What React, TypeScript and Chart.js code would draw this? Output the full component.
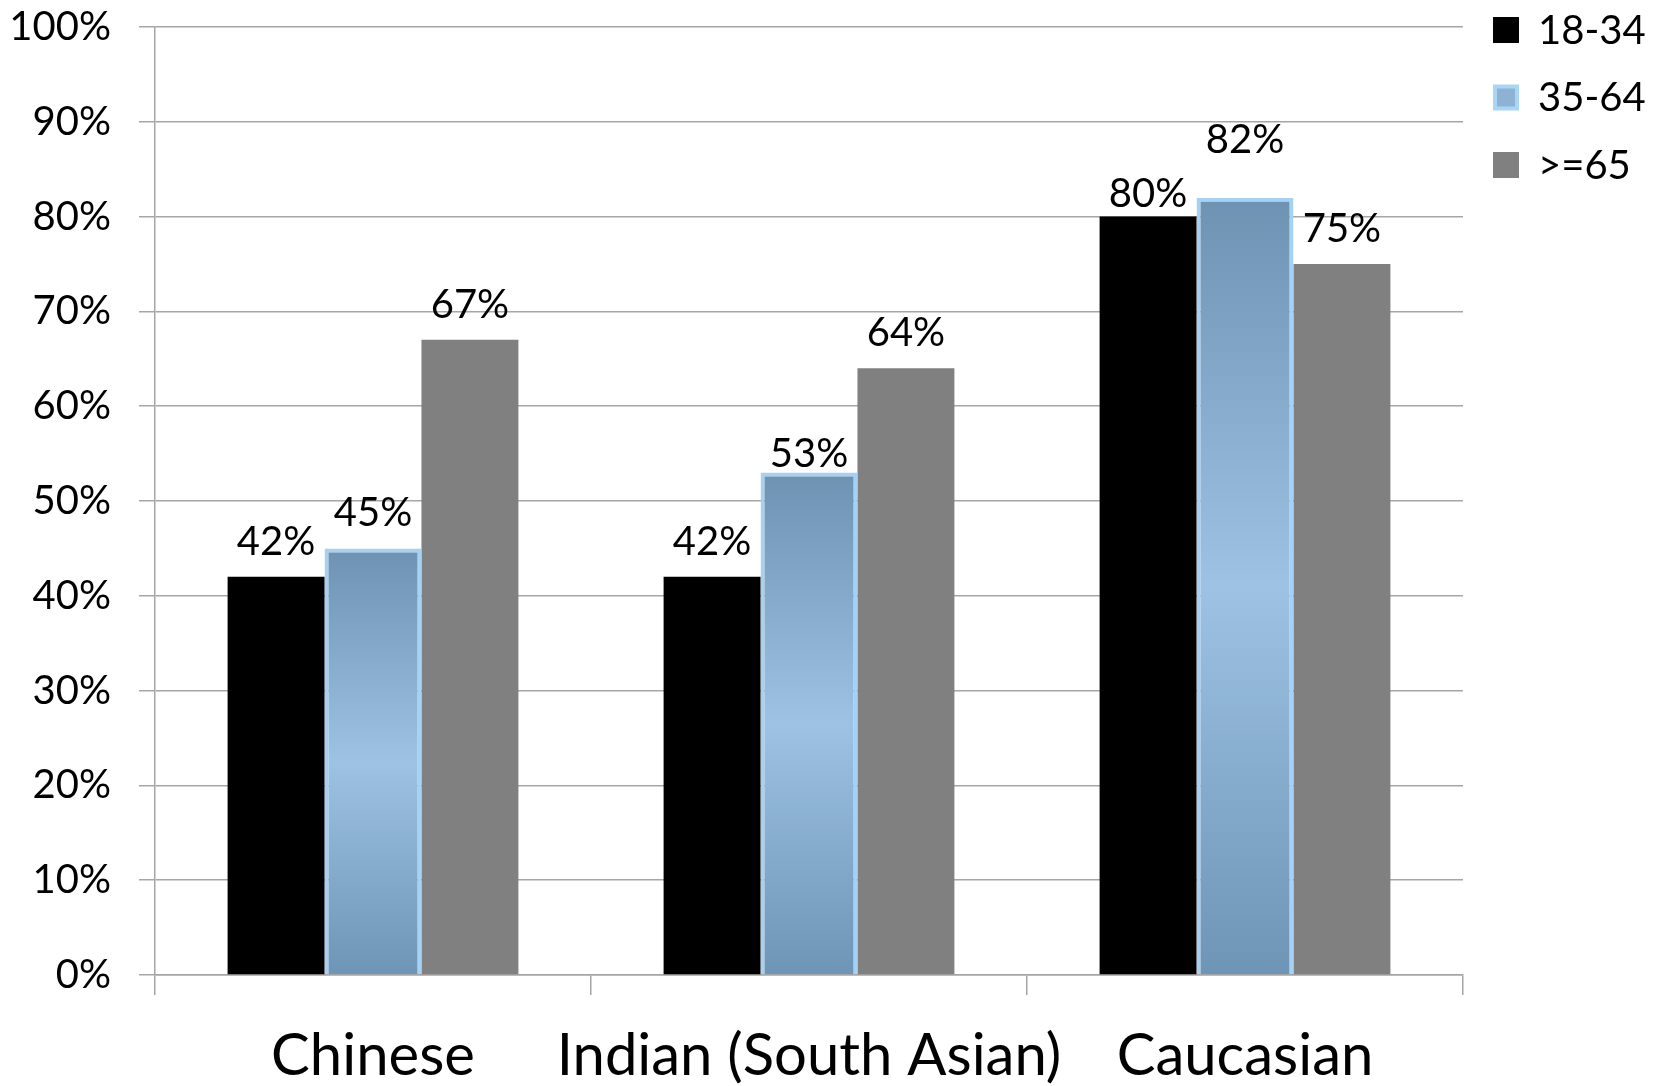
import React, { useEffect, useRef } from "react";
import { Chart, registerables } from "chart.js";

Chart.register(...registerables);

// Groups along the x axis
const categories = ["Chinese", "Indian (South Asian)", "Caucasian"];

// Share per age band, in percent
const age18to34 = [42, 42, 80];
const age35to64 = [45, 53, 82];
const age65plus = [67, 64, 75];

const seriesNames = ["18-34", "35-64", ">=65"];

// Value axis
const yTicks = [0, 10, 20, 30, 40, 50, 60, 70, 80, 90, 100];

const FONT = "Lato, 'Open Sans', sans-serif";
const GRID = "#a6a6a6";

// Vertical gradient for the 35-64 bars, dark at both ends and light in the middle
function blueFill(ctx: any) {
  const chart = ctx.chart;
  if (!chart.chartArea || ctx.raw == null) return "#88acd0";
  const y = chart.scales.y;
  const top = y.getPixelForValue(ctx.raw);
  const bottom = y.getPixelForValue(0);
  const g = chart.ctx.createLinearGradient(0, top, 0, bottom);
  g.addColorStop(0, "#6e92b2");
  g.addColorStop(0.5, "#9dc2e4");
  g.addColorStop(1, "#6f95b6");
  return g;
}

// Value labels above each bar, with a few hand nudges for readability
const valueLabels = {
  id: "valueLabels",
  afterDatasetsDraw(chart: any, _args: any, opts: any) {
    const ctx = chart.ctx;
    ctx.save();
    ctx.font = `40px ${FONT}`;
    ctx.fillStyle = "#000";
    ctx.textAlign = "center";
    ctx.textBaseline = "alphabetic";
    const nudges = opts.nudges || {};
    chart.data.datasets.forEach((ds: any, di: number) => {
      const meta = chart.getDatasetMeta(di);
      meta.data.forEach((bar: any, i: number) => {
        const v = ds.data[i];
        const dy = nudges[`${di}-${i}`] || 0;
        ctx.fillText(`${v}%`, bar.x, bar.y - 22 + dy);
      });
    });
    ctx.restore();
  },
};

// Legend drawn in the right margin, top-aligned
const sideLegend = {
  id: "sideLegend",
  afterDraw(chart: any) {
    const ctx = chart.ctx;
    const x0 = chart.chartArea.right + 30;
    const box = 26;
    const step = 67.5;
    ctx.save();
    ctx.font = `40px ${FONT}`;
    ctx.textAlign = "left";
    ctx.textBaseline = "middle";
    chart.data.datasets.forEach((ds: any, di: number) => {
      const cy = 30 + di * step;
      if (di === 1) {
        ctx.fillStyle = "#aad6f5";
        ctx.fillRect(x0, cy - box / 2, box, box);
        ctx.fillStyle = "#8db2d4";
        ctx.fillRect(x0 + 4, cy - box / 2 + 4, box - 8, box - 8);
      } else {
        ctx.fillStyle = ds.backgroundColor;
        ctx.fillRect(x0, cy - box / 2, box, box);
      }
      ctx.fillStyle = "#000";
      ctx.fillText(ds.label, x0 + box + 19, cy + 1);
    });
    ctx.restore();
  },
};

export default function App() {
  const ref = useRef<HTMLCanvasElement | null>(null);

  useEffect(() => {
    document.body.style.margin = "0";
    const canvas = ref.current;
    if (!canvas) return;
    const chart = new Chart(canvas, {
      type: "bar",
      data: {
        labels: categories,
        datasets: [
          {
            label: seriesNames[0],
            data: age18to34,
            backgroundColor: "#000000",
            borderWidth: 0,
          },
          {
            label: seriesNames[1],
            data: age35to64,
            backgroundColor: blueFill,
            borderColor: "#a6d1f2",
            borderWidth: 4,
          },
          {
            label: seriesNames[2],
            data: age65plus,
            backgroundColor: "#808080",
            borderWidth: 0,
          },
        ],
      },
      plugins: [valueLabels, sideLegend],
      options: {
        animation: false,
        responsive: false,
        devicePixelRatio: 1,
        layout: { padding: { top: 27, right: 195, left: 0, bottom: 0 } },
        datasets: {
          bar: { categoryPercentage: 0.667, barPercentage: 1 },
        },
        plugins: {
          legend: { display: false },
          tooltip: { enabled: false },
          valueLabels: { nudges: { "1-1": 16, "1-2": -23, "0-2": 12 } },
        } as any,
        scales: {
          x: {
            grid: {
              offset: true,
              drawOnChartArea: false,
              drawTicks: true,
              tickLength: 20,
              color: GRID,
              lineWidth: 1.5,
            },
            border: { color: GRID, width: 1.5 },
            ticks: {
              color: "#000",
              font: { family: FONT, size: 58 },
              padding: 26,
              maxRotation: 0,
              autoSkip: false,
            },
            afterFit(axis: any) {
              axis.height = 111;
              axis.paddingLeft = 0;
              axis.paddingRight = 0;
            },
          },
          y: {
            min: 0,
            max: 100,
            afterBuildTicks(axis: any) {
              axis.ticks = yTicks.map((v) => ({ value: v }));
            },
            grid: {
              color: GRID,
              lineWidth: 1.5,
              tickLength: 16,
            },
            border: { color: GRID, width: 1.5 },
            ticks: {
              color: "#000",
              font: { family: FONT, size: 40 },
              padding: 28,
              callback: (v: any) => `${v}%`,
            },
            afterFit(axis: any) {
              axis.width = 155;
              axis.paddingTop = 0;
              axis.paddingBottom = 0;
            },
          },
        },
      },
    });
    return () => chart.destroy();
  }, []);

  return (
    <div style={{ width: 1658, height: 1086, background: "#fff" }}>
      <canvas ref={ref} width={1658} height={1086} style={{ display: "block" }} />
    </div>
  );
}
